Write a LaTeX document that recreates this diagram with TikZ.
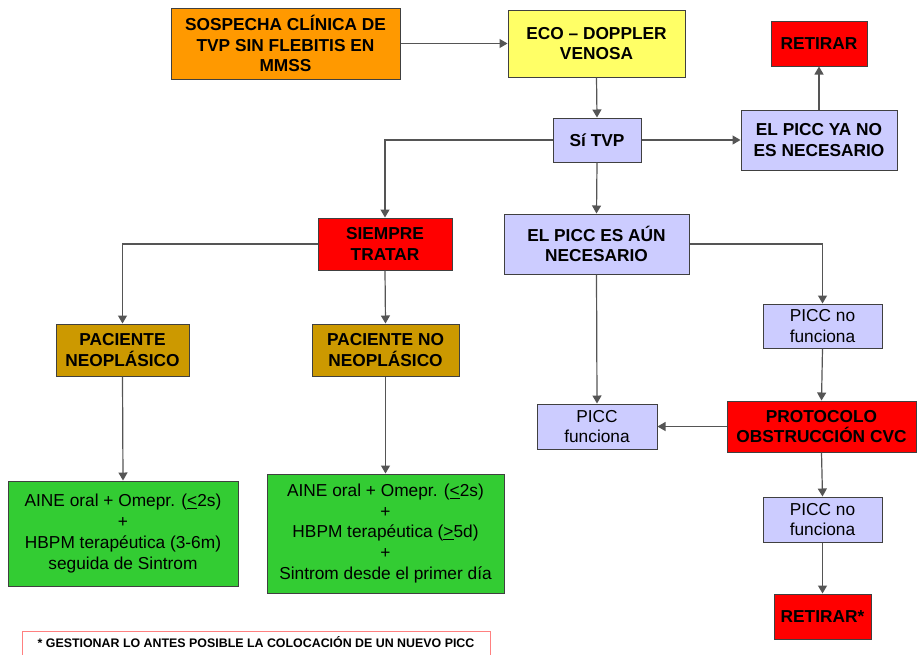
\documentclass[tikz,border=0pt]{standalone}
\usepackage{fontspec}
\setmainfont{Liberation Sans}
\usetikzlibrary{arrows.meta}
\definecolor{corange}{HTML}{FF9900}
\definecolor{cyellow}{HTML}{FFFF66}
\definecolor{clav}{HTML}{CCCCFF}
\definecolor{cred}{HTML}{FF0000}
\definecolor{cgold}{HTML}{CC9900}
\definecolor{cgreen}{HTML}{33CC33}
\definecolor{cline}{HTML}{555555}
\definecolor{cborder}{HTML}{404040}
\definecolor{cfoot}{HTML}{FF8080}
\tikzset{
  box/.style={draw=cborder, line width=1pt, align=center, inner sep=1pt,
    font=\fontsize{17.3}{20.8}\selectfont\bfseries},
  plainbox/.style={box, font=\fontsize{17.3}{20.8}\selectfont},
  conn/.style={draw=cline, line width=1.2pt, -{Triangle[width=9pt,length=8pt]}},
}
\newcommand{\bx}[6]{\node[#1, fill=#2, minimum width=#3pt, minimum height=#4pt] (#5) at #6}
\begin{document}
\begin{tikzpicture}[x=1pt,y=-1pt]
\useasboundingbox[fill=white] (0,0) rectangle (917,654);
\bx{box}{corange}{229}{71}{sosp}{(285.5,43.5)} {SOSPECHA CLÍNICA DE\\TVP SIN FLEBITIS EN\\MMSS};
\bx{box}{cyellow}{177}{67}{eco}{(596.5,43.5)} {ECO – DOPPLER\\VENOSA};
\bx{box}{cred}{96}{45}{ret1}{(819,43.5)} {RETIRAR};
\bx{box}{clav}{88}{44}{sitvp}{(597,140)} {Sí TVP};
\bx{box}{clav}{156}{60}{yano}{(819,140)} {EL PICC YA NO\\ES NECESARIO};
\bx{box}{cred}{134}{52}{siempre}{(385,244)} {SIEMPRE\\TRATAR};
\bx{box}{clav}{185}{60}{aun}{(596.5,244)} {EL PICC ES AÚN\\NECESARIO};
\bx{box}{cgold}{133}{52}{pneo}{(122.5,350)} {PACIENTE\\NEOPLÁSICO};
\bx{box}{cgold}{147}{52}{pnoneo}{(385.5,350)} {PACIENTE NO\\NEOPLÁSICO};
\bx{plainbox}{clav}{119}{44}{nofa}{(822.5,326)} {PICC no\\funciona};
\bx{plainbox}{clav}{120}{45}{func}{(597,426.5)} {PICC\\funciona};
\bx{box}{cred}{189}{51}{proto}{(821.5,426.5)} {PROTOCOLO\\OBSTRUCCIÓN CVC};
\bx{plainbox}{clav}{119}{45}{nofb}{(822.5,519.5)} {PICC no\\funciona};
\bx{box}{cred}{97}{45}{ret2}{(822.5,616.5)} {RETIRAR*};
\bx{plainbox}{cgreen}{230}{105}{greena}{(123,533.5)} {AINE oral + Omepr. (\underline{<}2s)\\+\\HBPM terapéutica (3-6m)\\seguida de Sintrom};
\bx{plainbox}{cgreen}{237}{119}{greenb}{(385.5,533.5)} {AINE oral + Omepr. (\underline{<}2s)\\+\\HBPM terapéutica (\underline{>}5d)\\+\\Sintrom desde el primer día};
% footnote
\draw[draw=cfoot, line width=1pt] (22,660) -- (22,631) -- (490,631) -- (490,660);
\node[font=\fontsize{12.4}{14}\selectfont\bfseries, anchor=base] (foot) at (256,647) {* GESTIONAR LO ANTES POSIBLE LA COLOCACIÓN DE UN NUEVO PICC};
% connectors
\draw[conn] (sosp.east) -- (eco.west);
\draw[conn] (eco.south) -- (sitvp.north);
\draw[conn] (sitvp.east) -- (yano.west);
\draw[conn] (yano.north) -- (ret1.south);
\draw[conn] (sitvp.west) -| (siempre.north);
\draw[conn] (sitvp.south) -- (aun.north);
\draw[conn] (siempre.west) -| (pneo.north);
\draw[conn] (siempre.south) -- (pnoneo.north);
\draw[conn] (aun.east) -| (nofa.north);
\draw[conn] (aun.south) -- (func.north);
\draw[conn] (nofa.south) -- (proto.north);
\draw[conn] (proto.west) -- (func.east);
\draw[conn] (proto.south) -- (nofb.north);
\draw[conn] (nofb.south) -- (ret2.north);
\draw[conn] (pneo.south) -- (greena.north);
\draw[conn] (pnoneo.south) -- (greenb.north);
\end{tikzpicture}
\end{document}
